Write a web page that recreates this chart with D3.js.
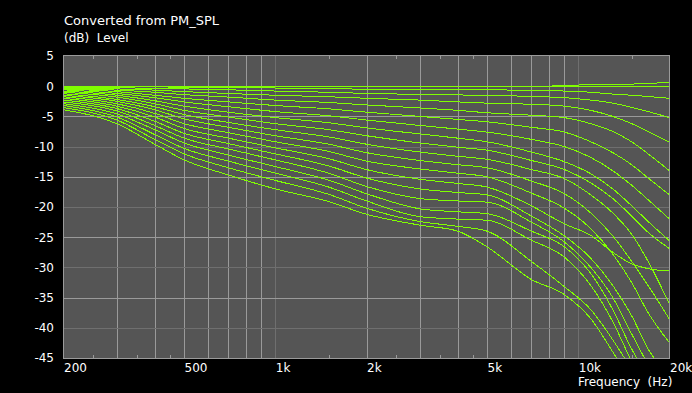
<!DOCTYPE html>
<html><head><meta charset="utf-8">
<script src="https://cdn.jsdelivr.net/npm/d3@7"></script>
<style>
html,body{margin:0;padding:0;background:#000;}
svg{display:block;}
text{font-family:"DejaVu Sans",Verdana,sans-serif;fill:#fff;}
</style></head>
<body>
<script>
const freqs = [200, 300, 400, 500, 700, 1000, 1500, 2000, 3000, 4000, 5000, 7000, 9000, 11000, 13000, 15000, 17000, 20000];
const curve00 = [0,0,0,0,0,0,0,0,0,0,0,0,0.05,0.3,0.3,0.35,0.45,0.65];
const curve01 = [0,0,0,0,0,0,0,0,0,0,0,0,0,0,0,0,0,0];
const curve02 = [-0.05,-0.1,-0.12,-0.15,-0.2,-0.3,-0.4,-0.5,-0.55,-0.6,-0.6,-0.7,-0.8,-1.0,-1.3,-1.5,-1.7,-2.0];
const curve03 = [-0.1,-0.25,-0.35,-0.45,-0.6,-0.8,-1.0,-1.2,-1.35,-1.45,-1.5,-1.7,-1.9,-2.3,-2.8,-3.5,-4.2,-5.2];
const curve04 = [-0.2,-0.45,-0.65,-0.9,-1.2,-1.5,-1.75,-2.0,-2.3,-2.6,-2.8,-3.0,-3.3,-4.0,-5.0,-6.2,-7.5,-9.3];
const curve05 = [-0.3,-0.65,-1.0,-1.4,-1.8,-2.3,-2.7,-3.1,-3.6,-4.0,-4.4,-4.8,-5.2,-6.2,-7.5,-9.2,-11.2,-14.0];
const curve06 = [-0.45,-0.9,-1.5,-2.0,-2.6,-3.2,-3.75,-4.3,-5.0,-5.5,-5.9,-6.8,-7.6,-9.2,-11.0,-13.0,-15.2,-18.0];
const curve07 = [-0.6,-1.2,-1.9,-2.6,-3.4,-4.2,-4.9,-5.6,-6.5,-7.1,-7.6,-8.8,-10.0,-11.8,-14.0,-16.4,-18.8,-22.0];
const curve08 = [-0.8,-1.5,-2.4,-3.3,-4.3,-5.2,-6.05,-6.9,-7.9,-8.6,-9.2,-10.9,-12.5,-14.5,-17.0,-19.8,-22.4,-25.6];
const curve09 = [-1.0,-1.8,-2.9,-4.0,-5.1,-6.2,-7.2,-8.2,-9.4,-10.1,-10.6,-12.3,-13.8,-16.0,-18.6,-21.5,-24.2,-26.9];
const curve10 = [-1.25,-2.2,-3.4,-4.7,-6.0,-7.2,-8.4,-9.6,-10.9,-11.6,-12.1,-13.8,-15.3,-18.0,-21.0,-24.5,-29.0,-36.1];
const curve11 = [-1.5,-2.5,-3.9,-5.4,-6.8,-8.2,-9.6,-11.0,-12.3,-13.0,-13.5,-15.7,-17.8,-21.0,-24.8,-29.0,-33.0,-38.6];
const curve12 = [-1.75,-2.9,-4.5,-6.2,-7.7,-9.2,-10.8,-12.4,-13.7,-14.4,-15.0,-17.7,-20.2,-23.6,-27.8,-32.5,-37.5,-42.5];
const curve13 = [-2.0,-3.3,-5.1,-7.0,-8.6,-10.2,-12.0,-13.8,-15.4,-16.1,-16.7,-19.8,-22.8,-24.7,-27.5,-29.4,-30.2,-30.6];
const curve14 = [-2.3,-3.7,-5.8,-7.8,-9.5,-11.2,-13.2,-15.2,-17.0,-17.6,-18.0,-21.5,-24.8,-28.5,-33.0,-38.0,-43.5,-48];
const curve15 = [-2.6,-4.1,-6.5,-8.6,-10.4,-12.2,-14.4,-16.6,-18.6,-19.0,-19.2,-22.5,-25.8,-30.0,-35.0,-41.0,-46,-50];
const curve16 = [-2.9,-4.6,-7.2,-9.4,-11.4,-13.3,-15.55,-17.8,-20.3,-20.8,-21.1,-24.0,-26.6,-31.0,-37.0,-43.5,-48,-52];
const curve17 = [-3.2,-5.1,-8.0,-10.3,-12.4,-14.4,-16.7,-19.0,-21.6,-22.0,-22.2,-25.5,-28.3,-33.0,-39.0,-45.5,-50,-54];
const curve18 = [-3.55,-5.6,-8.8,-11.2,-13.5,-15.6,-17.9,-20.2,-22.4,-23.2,-24.0,-29.0,-33.2,-37.0,-42.0,-47,-52,-56];
const curve19 = [-3.9,-6.2,-9.6,-12.2,-14.7,-17.0,-19.1,-21.2,-23.0,-24.0,-26.6,-32.0,-34.5,-38.5,-44,-49,-53,-57];
const curves = [curve00,curve01,curve02,curve03,curve04,curve05,curve06,curve07,curve08,curve09,
                curve10,curve11,curve12,curve13,curve14,curve15,curve16,curve17,curve18,curve19];

const yTicks = [5,0,-5,-10,-15,-20,-25,-30,-35,-40,-45];
const yDarkGrid = [-10,-20,-30,-40];
const yLightGrid = [0,-5,-15,-25,-35];
const xLabelTicks = [200,500,1000,2000,5000,10000,20000];
const xLabelText = ["200","500","1k","2k","5k","10k","20k"];
const xLightGrid = [300,400,500,600,700,800,900,2000,3000,4000,5000,6000,7000,8000,9000];
const xDarkGrid = [1000,10000];
const xMinorTicks = [250,350,450,1500,2500,3500,4500,15000];

const W = 692, H = 393;
const L = 64, R = 669, T = 56, B = 358;
const svg = d3.select("body").append("svg").attr("width",W).attr("height",H);
svg.append("rect").attr("width",W).attr("height",H).attr("fill","#000");

const x = d3.scaleLog().domain([200,20000]).range([L-0.5, R+0.5]);
const y = d3.scaleLinear().domain([-45,5]).range([B, T]);
const px = v => Math.round(v) + 0.5;

svg.append("rect").attr("x",L).attr("y",T).attr("width",R-L).attr("height",B-T).attr("fill","#555555");

const g = svg.append("g").attr("shape-rendering","crispEdges");
g.selectAll(".vl").data(xLightGrid).join("line")
  .attr("x1",d=>px(x(d))).attr("x2",d=>px(x(d))).attr("y1",T).attr("y2",B)
  .attr("stroke","#9a9a9a").attr("stroke-width",1);
g.selectAll(".vd").data(xDarkGrid).join("line")
  .attr("x1",d=>px(x(d))).attr("x2",d=>px(x(d))).attr("y1",T).attr("y2",B)
  .attr("stroke","#6f6f6f").attr("stroke-width",1);
g.selectAll(".hl").data(yLightGrid).join("line")
  .attr("y1",d=>px(y(d))).attr("y2",d=>px(y(d))).attr("x1",L).attr("x2",R)
  .attr("stroke","#9a9a9a").attr("stroke-width",1);
g.selectAll(".hd").data(yDarkGrid).join("line")
  .attr("y1",d=>px(y(d))).attr("y2",d=>px(y(d))).attr("x1",L).attr("x2",R)
  .attr("stroke","#6f6f6f").attr("stroke-width",1);
g.selectAll(".mt").data(xMinorTicks).join("line")
  .attr("x1",d=>px(x(d))).attr("x2",d=>px(x(d))).attr("y1",T).attr("y2",T+3)
  .attr("stroke","#9a9a9a");
g.selectAll(".mb").data(xMinorTicks).join("line")
  .attr("x1",d=>px(x(d))).attr("x2",d=>px(x(d))).attr("y1",B-3).attr("y2",B)
  .attr("stroke","#9a9a9a");

svg.append("defs").append("clipPath").attr("id","clip")
  .append("rect").attr("x",L).attr("y",T).attr("width",R-L).attr("height",B-T);

const line = d3.line().x((d,i)=>x(freqs[i])).y(d=>y(d)).curve(d3.curveMonotoneX);
svg.append("g").attr("clip-path","url(#clip)")
  .selectAll("path").data(curves).join("path")
  .attr("d",line).attr("fill","none").attr("stroke","#80ff00").attr("stroke-width",1)
  .attr("shape-rendering","crispEdges");

// frame
svg.append("rect").attr("x",L-0.5).attr("y",T-0.5).attr("width",R-L+1).attr("height",B-T+1)
  .attr("fill","none").attr("stroke","#9a9a9a").attr("shape-rendering","crispEdges");

// axes
const yAxis = d3.axisLeft(y).tickValues(yTicks).tickSize(0).tickPadding(10).tickFormat(d=>String(d));
const ya = svg.append("g").attr("transform",`translate(${L},0)`).call(yAxis);
ya.select(".domain").remove();
ya.selectAll("text").attr("font-size",12).attr("fill","#fff").attr("font-family","DejaVu Sans");

const xAxis = d3.axisBottom(x).tickValues(xLabelTicks).tickSize(0).tickPadding(0)
  .tickFormat((d,i)=>xLabelText[i]);
const xa = svg.append("g").attr("transform",`translate(0,${B})`).call(xAxis);
xa.select(".domain").remove();
xa.selectAll("text").attr("font-size",12).attr("fill","#fff").attr("font-family","DejaVu Sans")
  .attr("text-anchor","start").attr("dy",null).attr("y",14);

svg.append("text").attr("x",L).attr("y",25).attr("font-size",13).text("Converted from PM_SPL");
svg.append("text").attr("x",L).attr("y",42).attr("font-size",12).attr("xml:space","preserve").text("(dB)  Level");
svg.append("text").attr("x",578).attr("y",386).attr("font-size",12).attr("xml:space","preserve").text("Frequency  (Hz)");
</script>
</body></html>
